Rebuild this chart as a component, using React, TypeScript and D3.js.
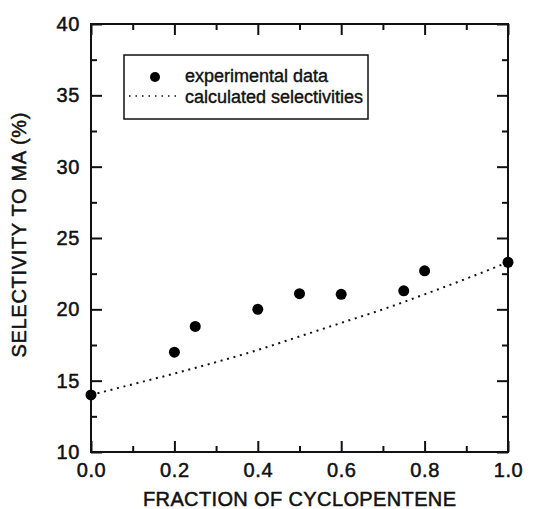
import React, { useEffect, useRef } from "react";
import * as d3 from "d3";

// experimental points
const expX = [0.0, 0.2, 0.25, 0.4, 0.5, 0.6, 0.75, 0.8, 1.0];
const expY = [14.0, 17.0, 18.8, 20.0, 21.1, 21.05, 21.3, 22.7, 23.3];

// calculated selectivities
const calcX = [0.0, 0.1, 0.2, 0.3, 0.4, 0.5, 0.6, 0.7, 0.8, 0.9, 1.0];
const calcY = [14.0, 14.75, 15.5, 16.3, 17.15, 18.1, 19.05, 20.0, 21.05, 22.15, 23.3];

const xMajor = [0, 0.2, 0.4, 0.6, 0.8, 1.0];
const xMinor = [0.1, 0.3, 0.5, 0.7, 0.9];
const yMajor = [10, 15, 20, 25, 30, 35, 40];
const yMinor = [12.5, 17.5, 22.5, 27.5, 32.5, 37.5];

const legendLabels = ["experimental data", "calculated selectivities"];

const FONT = "'Liberation Sans', Arial, Helvetica, sans-serif";

export default function App() {
  const ref = useRef<SVGSVGElement>(null);

  useEffect(() => {
    const svgWidth = 534, svgHeight = 509;
    const margin = { top: 24, right: 26, bottom: 57, left: 91 };
    const width = svgWidth - margin.left - margin.right;
    const height = svgHeight - margin.top - margin.bottom;

    const svg = d3.select(ref.current);
    svg.selectAll("*").remove();
    const g = svg.append("g").attr("transform", `translate(${margin.left}, ${margin.top})`);

    const x = d3.scaleLinear().domain([0, 1]).range([0, width]);
    const y = d3.scaleLinear().domain([10, 40]).range([height, 0]);

    const major = 11, minor = 6;

    // bottom / left with labels
    g.append("g").attr("transform", `translate(0, ${height})`)
      .call(d3.axisBottom(x).tickValues(xMajor).tickFormat(d3.format(".1f")).tickSizeInner(-major).tickSizeOuter(0).tickPadding(11));
    g.append("g")
      .call(d3.axisLeft(y).tickValues(yMajor).tickFormat(d3.format("d")).tickSizeInner(-major).tickSizeOuter(0).tickPadding(11));
    // top / right mirrored ticks
    g.append("g").call(d3.axisTop(x).tickValues(xMajor).tickFormat(() => "").tickSizeInner(-major).tickSizeOuter(0));
    g.append("g").attr("transform", `translate(${width}, 0)`)
      .call(d3.axisRight(y).tickValues(yMajor).tickFormat(() => "").tickSizeInner(-major).tickSizeOuter(0));
    // minor ticks
    g.append("g").attr("transform", `translate(0, ${height})`)
      .call(d3.axisBottom(x).tickValues(xMinor).tickFormat(() => "").tickSizeInner(-minor).tickSizeOuter(0));
    g.append("g").call(d3.axisTop(x).tickValues(xMinor).tickFormat(() => "").tickSizeInner(-minor).tickSizeOuter(0));
    g.append("g").call(d3.axisLeft(y).tickValues(yMinor).tickFormat(() => "").tickSizeInner(-minor).tickSizeOuter(0));
    g.append("g").attr("transform", `translate(${width}, 0)`)
      .call(d3.axisRight(y).tickValues(yMinor).tickFormat(() => "").tickSizeInner(-minor).tickSizeOuter(0));

    g.selectAll(".domain").remove();
    g.selectAll(".tick line").attr("stroke", "#111").attr("stroke-width", 2);
    g.selectAll(".tick text").attr("fill", "#111").attr("stroke", "#111").attr("stroke-width", 0.5)
      .style("font-family", FONT).style("font-size", "20px").style("letter-spacing", "0.6px");

    // frame
    g.append("rect").attr("x", 0).attr("y", 0).attr("width", width).attr("height", height)
      .attr("fill", "none").attr("stroke", "#111").attr("stroke-width", 2);

    // calculated curve
    const line = d3.line<number>().x((d, i) => x(calcX[i])).y(d => y(d)).curve(d3.curveMonotoneX);
    g.append("path").attr("d", line(calcY))
      .attr("fill", "none").attr("stroke", "#111").attr("stroke-width", 2)
      .attr("stroke-dasharray", "2,4.7");

    // experimental dots
    g.selectAll(".pt").data(expY).join("circle").attr("class", "pt")
      .attr("cx", (d, i) => x(expX[i])).attr("cy", d => y(d)).attr("r", 5.5).attr("fill", "#000");

    // legend
    const lg = g.append("g").attr("transform", `translate(${124 - margin.left}, ${55 - margin.top})`);
    lg.append("rect").attr("width", 244).attr("height", 64).attr("fill", "#fff")
      .attr("stroke", "#111").attr("stroke-width", 1.5);
    lg.append("circle").attr("cx", 31).attr("cy", 22).attr("r", 5).attr("fill", "#000");
    lg.append("line").attr("x1", 5).attr("x2", 52).attr("y1", 41).attr("y2", 41)
      .attr("stroke", "#111").attr("stroke-width", 1.5).attr("stroke-dasharray", "1.5,5");
    lg.selectAll(".lt").data(legendLabels).join("text").attr("class", "lt")
      .attr("x", 61).attr("y", (d, i) => 27 + i * 21)
      .style("font-family", FONT).style("font-size", "18px").attr("fill", "#111")
      .attr("stroke", "#111").attr("stroke-width", 0.4)
      .text(d => d);

    // axis titles
    g.append("text").attr("x", width / 2).attr("y", height + 54)
      .attr("text-anchor", "middle").style("font-family", FONT).style("font-size", "20px").attr("fill", "#111")
      .attr("stroke", "#111").attr("stroke-width", 0.5)
      .attr("textLength", 313).attr("lengthAdjust", "spacing")
      .text("FRACTION OF CYCLOPENTENE");
    g.append("text").attr("transform", `translate(${26 - margin.left}, ${235 - margin.top}) rotate(-90)`)
      .attr("text-anchor", "middle").style("font-family", FONT).style("font-size", "20px").attr("fill", "#111")
      .attr("stroke", "#111").attr("stroke-width", 0.5)
      .attr("textLength", 245).attr("lengthAdjust", "spacing")
      .text("SELECTIVITY TO MA (%)");
  }, []);

  return (
    <svg ref={ref} width={534} height={509}
      style={{ position: "absolute", left: 0, top: 0, background: "#fff" }} />
  );
}
